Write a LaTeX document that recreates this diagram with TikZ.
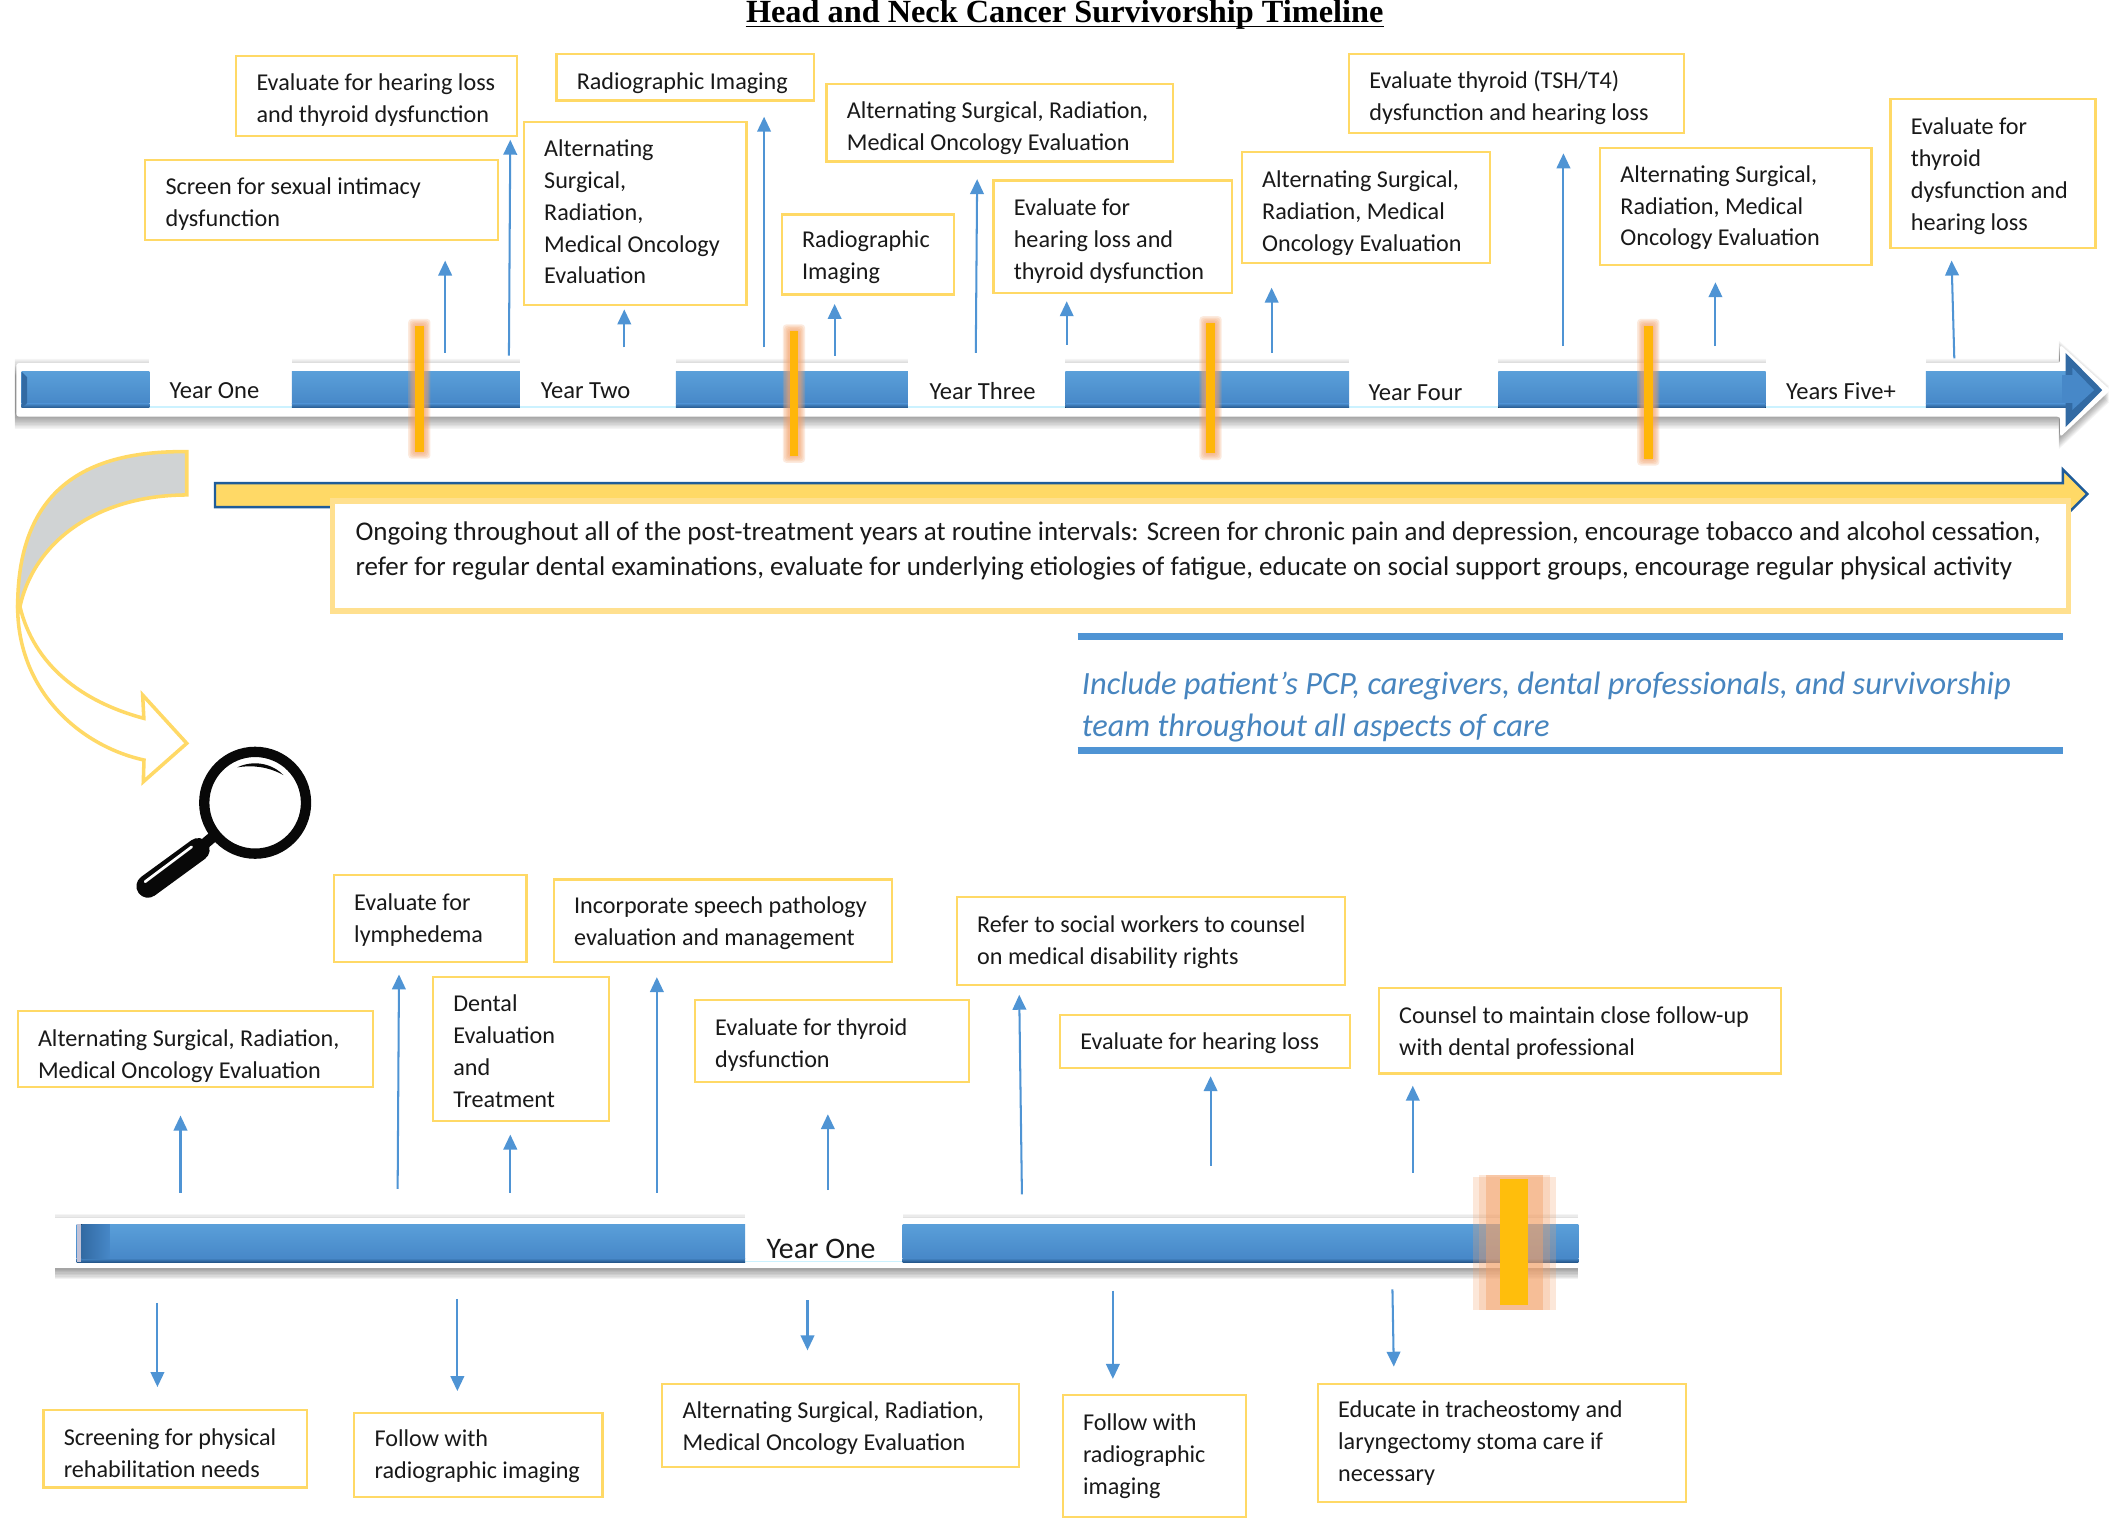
\documentclass[tikz,border=0pt]{standalone}
\usepackage{fontspec}
\setmainfont{Carlito}
\newfontfamily\titlefont{Liberation Serif}
\usetikzlibrary{arrows.meta}
\definecolor{byel}{HTML}{FFD966}
\definecolor{pyel}{HTML}{FFE08F}
\definecolor{bline}{HTML}{4F94D4}
\definecolor{blueA}{HTML}{5A9FD9}
\definecolor{blueB}{HTML}{4788C8}
\definecolor{blueC}{HTML}{24568A}
\definecolor{oline}{HTML}{1F5C99}
\definecolor{gold}{HTML}{FFB60A}
\definecolor{goldb}{HTML}{FFBE0C}
\definecolor{glow}{HTML}{F4A26A}
\definecolor{arcgray}{HTML}{D0D3D4}
\tikzset{
  x=1pt,y=-1pt,
  tbox/.style={draw=byel,line width=1.6pt,fill=white,inner xsep=15pt,inner ysep=0pt,
    font=\fontsize{17.8}{23.5}\selectfont,text=black!90},
  conn/.style={draw=bline,line width=1.5pt,-{Triangle[length=11pt,width=10pt,fill=bline]}},
  yearlab/.style={font=\fontsize{18.1}{20}\selectfont,text=black!90,inner sep=0pt},
  gapbox/.style={fill=white,draw=none},
  bandshadow/.style={fill=black,draw=none},
}
\newcommand\bx[7][2]{%
  \pgfmathsetmacro\bcx{(#3+#5)/2}\pgfmathsetmacro\bcy{(#4+#6)/2}%
  \pgfmathsetmacro\bw{#5-#3}\pgfmathsetmacro\bh{#6-#4}\pgfmathsetmacro\btw{\bw-30}%
  \node[tbox,minimum width=\bw pt,minimum height=\bh pt] (#2) at (\bcx,\bcy) {\raisebox{-#1pt}[\height][\depth]{\makebox[\btw pt][l]{\begin{tabular}{@{}l@{}}#7\end{tabular}}}};}
\newcommand\arr[5]{\coordinate (#1-a) at (#2,#3);\coordinate (#1-b) at (#4,#5);\draw[conn] (#1-a) -- (#1-b);}
\newcommand\seg[4]{%
  \pgfmathsetmacro\sgm{#4-3}%
  \fill[top color=blueA,bottom color=blueB] (#1,#3) rectangle (#2,\sgm);
  \fill[top color=blueB,bottom color=blueC] (#1,\sgm) rectangle (#2,#4);}
\newcommand\gapb[4]{%
  \fill[gapbox] (#1,#3) rectangle (#2,#4);
  \pgfmathsetmacro\sgm{#4-1.2}%
  \fill[color=blue!25!cyan!20!white] (#1,\sgm) rectangle (#2,#4);}
\newcommand\goldbar[4]{% x y1 y2 halfwidth
  \pgfmathsetmacro\xa{#1-#4}\pgfmathsetmacro\xb{#1+#4}%
  \foreach \g in {1,2,3,4,5}{%
    \pgfmathsetmacro\xc{#1-#4-\g}\pgfmathsetmacro\xd{#1+#4+\g}%
    \pgfmathsetmacro\ya{#2-\g}\pgfmathsetmacro\yb{#3+\g}%
    \fill[glow,opacity=.22,rounded corners=2.5pt] (\xc,\ya) rectangle (\xd,\yb);}
  \fill[gold] (\xa,#2) rectangle (\xb,#3);}
\begin{document}
\begin{tikzpicture}
\useasboundingbox (0,0) rectangle (1568,1118.6);
\fill[white] (0,0) rectangle (1568,1118.6);
% title
\node[font=\titlefont\bfseries\fontsize{23.8}{26}\selectfont,inner sep=0pt,anchor=base] (title) at (784.5,16.5) {Head and Neck Cancer Survivorship Timeline};
\draw[line width=1.4pt] (title.base west)+(0,3) -- ([yshift=-3pt]title.base east);
% top bar shadow
\foreach \i in {-3,-2,-1,1,2,3,4,5,6,7,8,9}{
  \fill[bandshadow,shift={(-1,\i)},opacity=.045] (12,267.5) -- (1518,267.5) -- (1518,254) -- (1555,287.4) -- (1518,322) -- (1518,307) -- (12,307) -- cycle;}
\path[fill=white,rounded corners=2pt] (12,267.5) -- (1518,267.5) -- (1518,254) -- (1555,287.4) -- (1518,322) -- (1518,307) -- (12,307) -- cycle;
\gapb{110}{215}{262}{300.6}
\gapb{383}{498}{262}{300.6}
\gapb{669}{785}{262}{300.6}
\gapb{994}{1104}{262}{300.6}
\gapb{1301}{1419}{262}{300.6}
\seg{16}{110}{274}{300.6}
\seg{215}{383}{274}{300.6}
\seg{498}{669}{274}{300.6}
\seg{785}{994}{274}{300.6}
\seg{1104}{1301}{274}{300.6}
\seg{1419}{1524}{274}{300.6}
\fill[color=blueC!60!blueB] (16,274) -- (20,278) -- (20,297) -- (16,300.6) -- cycle;
\fill[color=blueC!60!blueB] (1522,260) -- (1549,287.4) -- (1522,314.7) -- cycle;
\fill[color=blueB] (1527,271) -- (1543,287.4) -- (1527,302) -- cycle;
\fill[color=blueB] (1519,276) rectangle (1530,297);
\node[yearlab] (y1) at (158,288) {Year One};
\node[yearlab] (y2) at (431.5,288) {Year Two};
\node[yearlab] (y3) at (724,288) {Year Three};
\node[yearlab] (y4) at (1043,289) {Year Four};
\node[yearlab] (y5) at (1356.5,288) {Years Five+};
\goldbar{309}{240}{333}{3.2}
\goldbar{585}{244}{336}{3.2}
\goldbar{892}{238}{334}{3.2}
\goldbar{1214.5}{240}{338}{3.2}
% top arrows
\arr{t1}{328}{260}{328}{192}
\arr{t2}{375}{262}{376}{103}
\arr{t3}{460}{256}{460}{228}
\arr{t4}{563}{256}{563}{86}
\arr{t5}{615}{262}{615}{224}
\arr{t6}{719}{260}{720}{132}
\arr{t7}{786}{254}{786}{222}
\arr{t8}{937}{260}{937}{212}
\arr{t9}{1152}{255}{1152}{113}
\arr{t10}{1264}{255}{1264}{208}
\arr{t11}{1440}{264}{1438}{192}
% top boxes
\bx[3]{b1}{174}{41}{381}{100}{Evaluate for hearing loss\\and thyroid dysfunction}
\bx[3]{b2}{107}{118}{367}{177}{Screen for sexual intimacy\\dysfunction}
\bx[0]{b3}{386}{90}{550}{225}{Alternating\\Surgical,\\Radiation,\\Medical Oncology\\Evaluation}
\bx[4]{b4}{410}{40}{600}{74}{Radiographic Imaging}
\bx[2]{b5}{576}{158}{703}{217}{Radiographic\\Imaging}
\bx[4]{b6}{609}{62}{864}{119}{Alternating Surgical, Radiation,\\Medical Oncology Evaluation}
\bx[3]{b7}{732}{133}{908}{216}{Evaluate for\\hearing loss and\\thyroid dysfunction}
\bx[4]{b8}{915}{112}{1098}{194}{Alternating Surgical,\\Radiation, Medical\\Oncology Evaluation}
\bx[3.5]{b9}{994}{40}{1241}{98}{Evaluate thyroid (TSH/T4)\\dysfunction and hearing loss}
\bx[1]{b10}{1179}{109}{1379}{195}{Alternating Surgical,\\Radiation, Medical\\Oncology Evaluation}
\bx[2]{b11}{1393}{73}{1544}{183}{Evaluate for\\thyroid\\dysfunction and\\hearing loss}
% yellow long arrow
\draw[fill=byel,draw=oline,line width=1.8pt] (158.4,356) -- (1520,356) -- (1520,346) -- (1538,364) -- (1520,382) -- (1520,373.6) -- (158.4,373.6) -- cycle;
\node[draw=pyel,line width=4pt,fill=white,minimum width=1279pt,minimum height=81pt,inner sep=0pt,font=\fontsize{19.9}{26}\selectfont,text=black!90] (ongoing) at (884.5,409.7)
 {\raisebox{4pt}[\height][\depth]{\makebox[1245pt][l]{\begin{tabular}{@{}l@{}}Ongoing throughout all of the post-treatment years at routine intervals: Screen for chronic pain and depression, encourage tobacco and alcohol cessation,\\refer for regular dental examinations, evaluate for underlying etiologies of fatigue, educate on social support groups, encourage regular physical activity\end{tabular}}}};
% include
\coordinate (r1a) at (794,469);\coordinate (r1b) at (1520,469);
\coordinate (r2a) at (794,553);\coordinate (r2b) at (1520,553);
\draw[bline,line width=5pt] (r1a) -- (r1b);
\draw[bline,line width=5pt] (r2a) -- (r2b);
\node[anchor=west,align=left,inner sep=0pt,font=\itshape\fontsize{23.9}{31}\selectfont,text=bline!90!black] (incl) at (797,521) {Include patient’s PCP, caregivers, dental professionals, and survivorship\\team throughout all aspects of care};
% curved arrow
\draw[draw=byel,line width=2.6pt,fill=white,line join=miter] (14.7,447) .. controls (25,490) and (60,517) .. (106,529.3) -- (105.1,512.1) -- (137.6,547.7) -- (105.6,576) -- (106.1,560) .. controls (60,550) and (13,510) .. (13,447) -- cycle;
\draw[draw=byel,line width=2.6pt,fill=arcgray,line join=miter] (137.6,332.8) .. controls (70,332) and (13,355) .. (13,447) -- (14.7,447) .. controls (25,400) and (70,365) .. (137.6,364.7) -- cycle;
% magnifier
\draw[line width=7.6pt,color=black!97] (188,591.5) circle (37.5);
\draw[line width=8pt,color=black!97] (157,616.5) -- (142.5,628.8);
\draw[line width=17pt,line cap=round,color=black!97] (146,626) -- (109,653);
\draw[line width=2pt,color=white,line cap=round] (141.2,624) -- (106.9,649.7);
\fill[black!97] (174.9,565.4) .. controls (186,560) and (200,562) .. (208.8,571.1) .. controls (198,565) and (186,563.5) .. (174.9,565.4) -- cycle;
% lower bar
\foreach \i in {1,2,3,4,5,6,7,8}{
  \fill[bandshadow,opacity=.05] (40.5,934.6) rectangle (1163,{934.6+\i});}
\foreach \i in {1,2,3}{
  \fill[bandshadow,opacity=.04] (40.5,{897.6-\i}) rectangle (1163,897.6);}
\fill[white] (40.5,897.6) rectangle (1163,934.6);
\gapb{549}{665}{893}{930}
\seg{56.5}{549}{902}{930}
\seg{665}{1163}{902}{930}
\fill[left color=blueC!60!blueB,right color=blueB] (60,902) rectangle (81,927);
\fill[color=blue!20!gray!40] (56.5,902) rectangle (60,930);
\node[font=\fontsize{22}{24}\selectfont,text=black!90,inner sep=0pt] (yb) at (605,920) {Year One};
\fill[glow,opacity=.25] (1085.7,867) rectangle (1146.7,965);
\fill[glow,opacity=.25] (1090,866) rectangle (1142,965);
\fill[glow,opacity=.45] (1095,866) rectangle (1137,965);
\fill[goldb] (1105.4,869) rectangle (1126,961.7);
% lower arrows up
\arr{u1}{133}{879}{133}{822}
\arr{u2}{293}{876}{294}{718}
\arr{u3}{376}{879}{376}{836}
\arr{u4}{484}{879}{484}{720}
\arr{u5}{610}{877}{610}{821}
\arr{u6}{753}{880}{751}{733}
\arr{u7}{892}{859}{892}{793}
\arr{u8}{1041}{864}{1041}{800}
% lower arrows down
\arr{d1}{116}{960}{116}{1022}
\arr{d2}{337}{957}{337}{1025}
\arr{d3}{595}{958}{595}{995}
\arr{d4}{820}{951}{820}{1016}
\arr{d5}{1026}{950}{1027}{1007}
% lower boxes
\bx[5]{c1}{13}{745}{275}{801}{Alternating Surgical, Radiation,\\Medical Oncology Evaluation}
\bx[1]{c2}{246}{645}{388}{709}{Evaluate for\\lymphedema}
\bx[3]{c3}{319}{720}{449}{826}{Dental\\Evaluation\\and\\Treatment}
\bx[2]{c4}{408}{648}{657}{709}{Incorporate speech pathology\\evaluation and management}
\bx[3]{c5}{512}{737}{714}{797}{Evaluate for thyroid\\dysfunction}
\bx[1]{c6}{705}{661}{991}{726}{Refer to social workers to counsel\\on medical disability rights}
\bx[1]{c7}{781}{748}{995}{787}{Evaluate for hearing loss}
\bx[2]{c8}{1016}{728}{1312}{791}{Counsel to maintain close follow-up\\with dental professional}
\bx[5]{e1}{32}{1039}{226}{1096}{Screening for physical\\rehabilitation needs}
\bx[1]{e2}{261}{1041}{444}{1103}{Follow with\\radiographic imaging}
\bx[2]{e3}{488}{1020}{751}{1081}{Alternating Surgical, Radiation,\\Medical Oncology Evaluation}
\bx[0]{e4}{783}{1028}{918}{1118}{Follow with\\radiographic\\imaging}
\bx[0]{e5}{971}{1020}{1242}{1107}{Educate in tracheostomy and\\laryngectomy stoma care if\\necessary}
\end{tikzpicture}
\end{document}
